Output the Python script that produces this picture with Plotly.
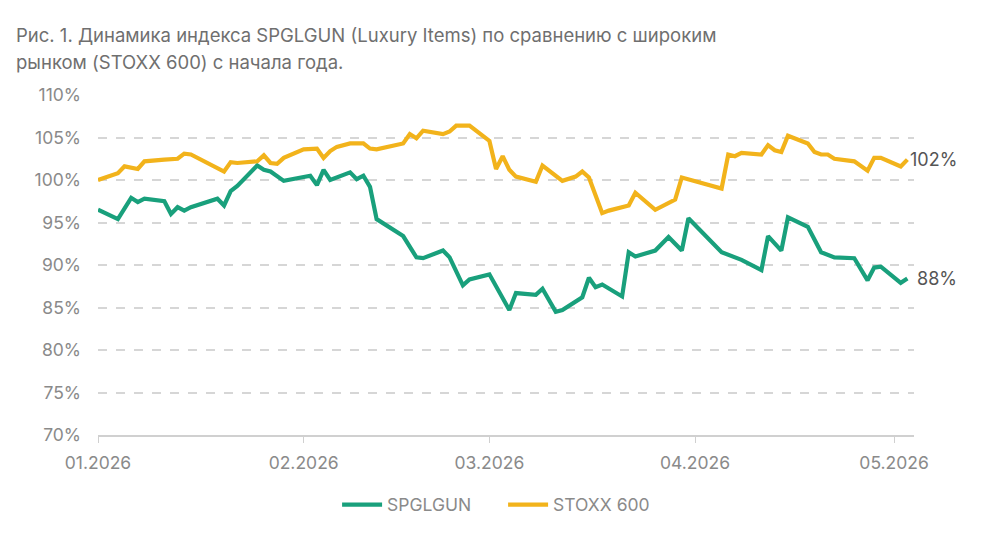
import plotly.graph_objects as go

# ---- data ----
stoxx_dates = ["2026-01-01","2026-01-04","2026-01-05","2026-01-06","2026-01-07","2026-01-08","2026-01-10","2026-01-11",
               "2026-01-13","2026-01-14","2026-01-15","2026-01-20","2026-01-21","2026-01-22","2026-01-25","2026-01-26",
               "2026-01-27","2026-01-28","2026-01-29","2026-02-01","2026-02-03","2026-02-04","2026-02-05","2026-02-06",
               "2026-02-08","2026-02-10","2026-02-11","2026-02-12","2026-02-16","2026-02-17","2026-02-18","2026-02-19",
               "2026-02-22","2026-02-23","2026-02-24","2026-02-26","2026-03-01","2026-03-02","2026-03-03","2026-03-04",
               "2026-03-05","2026-03-08","2026-03-09","2026-03-12","2026-03-14","2026-03-15","2026-03-16","2026-03-18",
               "2026-03-19","2026-03-22","2026-03-23","2026-03-26","2026-03-29","2026-03-30","2026-04-05","2026-04-06",
               "2026-04-07","2026-04-08","2026-04-11","2026-04-12","2026-04-13","2026-04-14","2026-04-15","2026-04-18",
               "2026-04-19","2026-04-20","2026-04-21","2026-04-22","2026-04-25","2026-04-27","2026-04-28","2026-04-29",
               "2026-05-02","2026-05-03"]
stoxx_values = [100.0,100.8,101.6,101.5,101.3,102.2,102.4,102.4,
                102.5,103.1,103.0,101.0,102.1,102.0,102.2,102.9,
                102.0,101.9,102.6,103.6,103.7,102.6,103.4,103.9,
                104.3,104.3,103.7,103.6,104.3,105.4,104.9,105.8,
                105.4,105.7,106.4,106.4,104.6,101.3,102.8,101.2,
                100.4,99.8,101.7,99.9,100.4,101.0,100.3,96.1,
                96.4,97.0,98.5,96.5,97.7,100.3,99.0,103.0,
                102.8,103.2,103.0,104.1,103.5,103.3,105.2,104.3,
                103.3,103.0,103.0,102.5,102.2,101.1,102.6,102.6,
                101.6,102.4]

lux_dates = ["2026-01-01","2026-01-04","2026-01-06","2026-01-07","2026-01-08","2026-01-11","2026-01-12","2026-01-13",
             "2026-01-14","2026-01-15","2026-01-19","2026-01-20","2026-01-21","2026-01-22","2026-01-25","2026-01-26",
             "2026-01-27","2026-01-29","2026-02-02","2026-02-03","2026-02-04","2026-02-05","2026-02-08","2026-02-09",
             "2026-02-10","2026-02-11","2026-02-12","2026-02-16","2026-02-18","2026-02-19","2026-02-22","2026-02-23",
             "2026-02-25","2026-02-26","2026-03-01","2026-03-04","2026-03-05","2026-03-08","2026-03-09","2026-03-11",
             "2026-03-12","2026-03-15","2026-03-16","2026-03-17","2026-03-18","2026-03-21","2026-03-22","2026-03-23",
             "2026-03-26","2026-03-28","2026-03-30","2026-03-31","2026-04-05","2026-04-07","2026-04-08","2026-04-11",
             "2026-04-12","2026-04-14","2026-04-15","2026-04-18","2026-04-20","2026-04-22","2026-04-25","2026-04-27",
             "2026-04-28","2026-04-29","2026-05-02","2026-05-03"]
lux_values = [96.5,95.4,97.9,97.4,97.8,97.5,96.0,96.8,
              96.4,96.8,97.8,97.0,98.7,99.3,101.7,101.2,
              101.0,99.9,100.5,99.4,101.2,100.0,100.9,100.1,
              100.5,99.2,95.4,93.4,90.9,90.8,91.7,90.9,
              87.6,88.3,88.9,84.7,86.7,86.5,87.2,84.5,
              84.7,86.2,88.5,87.4,87.7,86.3,91.5,91.0,
              91.7,93.3,91.7,95.5,91.5,90.9,90.6,89.4,
              93.4,91.7,95.6,94.5,91.5,90.9,90.8,88.2,
              89.7,89.8,87.9,88.4]

month_ticks = ["2026-01-01","2026-02-01","2026-03-01","2026-04-01","2026-05-01"]
month_labels = ["01.2026","02.2026","03.2026","04.2026","05.2026"]
y_ticks = [70,75,80,85,90,95,100,105,110]
y_labels = [f"{v}%" for v in y_ticks]

title_lines = ["Рис. 1. Динамика индекса SPGLGUN (Luxury Items) по сравнению с широким",
               "рынком (STOXX 600) с начала года."]

GREEN = "#19a07c"
YELLOW = "#f2b31b"
FONT = "Inter, Roboto, sans-serif"

fig = go.Figure()
fig.add_trace(go.Scatter(x=lux_dates, y=lux_values, mode="lines", name="SPGLGUN",
                         line=dict(color=GREEN, width=4.2, shape="linear"), cliponaxis=False))
fig.add_trace(go.Scatter(x=stoxx_dates, y=stoxx_values, mode="lines", name="STOXX 600",
                         line=dict(color=YELLOW, width=4.2, shape="linear"), cliponaxis=False))

for d, v in ((lux_dates[-1], lux_values[-1]), (stoxx_dates[-1], stoxx_values[-1])):
    fig.add_annotation(x=d, y=v, text=f"{round(v)}%", showarrow=False, xanchor="right",
                       xshift=52, font=dict(family=FONT, size=18, color="#555555"))

# title as two paper-anchored annotations (left aligned, above plot)
for i, line in enumerate(title_lines):
    fig.add_annotation(xref="paper", yref="paper", x=-0.103, y=1.176 - i * 0.079,
                       xanchor="left", yanchor="middle", showarrow=False, align="left",
                       text=line, font=dict(family=FONT, size=18.5, color="#6f6f6f"))

fig.update_layout(
    width=1000, height=537,
    margin=dict(l=98, r=86, t=95, b=102, autoexpand=False),
    paper_bgcolor="white", plot_bgcolor="white",
    font=dict(family=FONT, color="#8a8a8a"),
    showlegend=True,
    legend=dict(orientation="h", x=0.293, xanchor="left", y=-0.152, yanchor="top",
                font=dict(family=FONT, size=17.5, color="#8a8a8a"),
                itemwidth=40, entrywidth=111, entrywidthmode="pixels"),
)
fig.update_xaxes(type="date", range=["2026-01-01", "2026-05-04"], automargin=False,
                 tickvals=month_ticks, ticktext=month_labels,
                 showgrid=False, showline=True, linecolor="#d0d0d0", linewidth=1.5,
                 ticks="outside", ticklen=6, tickcolor="#d0d0d0", ticklabelstandoff=5,
                 tickfont=dict(family=FONT, size=17.5, color="#8a8a8a"))
fig.update_yaxes(range=[70, 110], tickvals=y_ticks, ticktext=y_labels, automargin=False,
                 showgrid=True, gridcolor="#d6d6d6", gridwidth=1.5, griddash="dash",
                 zeroline=False, showline=False, ticks="", ticklabelstandoff=16,
                 tickfont=dict(family=FONT, size=17.5, color="#8a8a8a"))

fig.write_html("out.html")
